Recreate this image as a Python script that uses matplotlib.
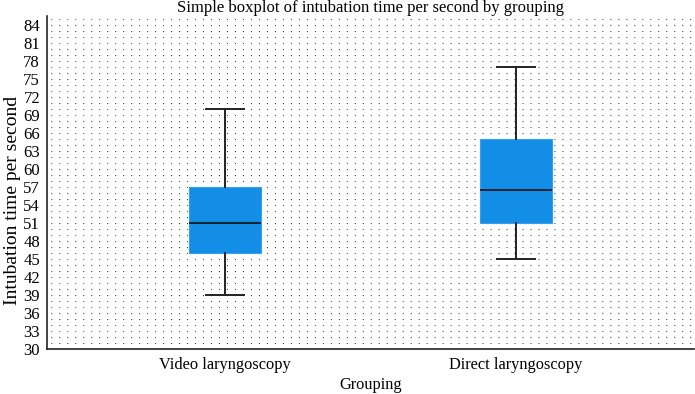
import matplotlib
matplotlib.use("Agg")
import matplotlib.pyplot as plt
import numpy as np

categories = ["Video laryngoscopy", "Direct laryngoscopy"]
whisker_low = [39, 45]
q1 = [46, 51]
median = [51, 56.5]
q3 = [57, 65]
whisker_high = [70, 77]
yticks = list(range(30, 85, 3))

plt.rcParams['font.family'] = ['Liberation Serif', 'DejaVu Serif']
plt.rcParams['lines.scale_dashes'] = False

fig = plt.figure(figsize=(6.95, 3.94), dpi=100)
ax = fig.add_axes([47/695, 1-349/394, (694-47)/695, (349-16)/394])

# dotted background grid
for yv in range(31, 86):
    ax.axhline(yv, color='#333333', lw=0.75, linestyle=(3.0, (0.7, 5.05)), zorder=0)

stats = []
for i, c in enumerate(categories):
    stats.append(dict(label=c, whislo=whisker_low[i], q1=q1[i], med=median[i],
                      q3=q3[i], whishi=whisker_high[i], fliers=[]))

ax.bxp(stats, positions=[0, 1], widths=0.245, patch_artist=True, showfliers=False,
       boxprops=dict(facecolor='#128ee6', edgecolor='#3a9ff0', linewidth=0.8),
       medianprops=dict(color='#111111', linewidth=1.2),
       whiskerprops=dict(color='#222222', linewidth=1.4),
       capprops=dict(color='#222222', linewidth=1.4),
       capwidths=0.13)

ax.set_xlim(-0.612, 1.612)
ax.set_ylim(30, 85.5)
ax.set_yticks(yticks)
ax.tick_params(axis='y', length=0, labelsize=12, pad=5)
ax.tick_params(axis='x', length=0, labelsize=11.8, pad=6)
for s in ['top', 'right']:
    ax.spines[s].set_visible(False)
ax.spines['left'].set_linewidth(1.2)
ax.spines['bottom'].set_linewidth(1.2)
ax.spines['left'].set_color('#222222')
ax.spines['bottom'].set_color('#222222')

ax.set_title("Simple boxplot of intubation time per second by grouping", fontsize=12, pad=1)
ax.set_ylabel("Intubation time per second", fontsize=14)
ax.yaxis.set_label_coords((21 - 47) / 647, (349 - 200) / 333)
ax.set_xlabel("Grouping", fontsize=11.8)
ax.xaxis.set_label_coords(0.5, -(377 - 349) / 333)

fig.savefig("out.png", dpi=100)
